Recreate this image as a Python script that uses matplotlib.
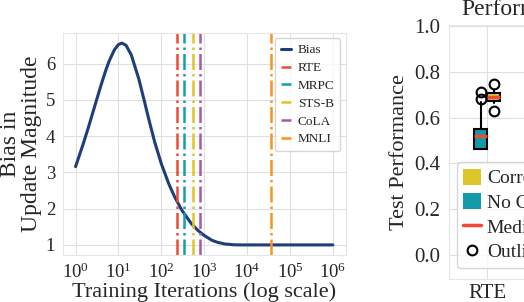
import matplotlib
matplotlib.use("Agg")
import matplotlib.pyplot as plt
import seaborn as sns
from matplotlib.lines import Line2D
from matplotlib.patches import Patch

# --- DATA ---
# bias curve (x in iterations, log scale)
iters = [1, 1.5, 2, 3, 4, 5, 6, 8, 10, 12, 15, 20, 30, 40, 50, 70, 100,
         150, 200, 300, 500, 700, 1000, 1500, 2000, 3000, 5000, 7000,
         1e4, 1e5, 1e6]
bias = [3.16, 3.78, 4.25, 4.95, 5.44, 5.80, 6.06, 6.38, 6.53, 6.57, 6.51,
        6.24, 5.57, 4.98, 4.51, 3.84, 3.24, 2.68, 2.35, 1.96, 1.59, 1.41,
        1.26, 1.13, 1.075, 1.026, 1.003, 1.0, 1.0, 1.0, 1.0]

tasks = ["RTE", "MRPC", "STS-B", "CoLA", "MNLI"]
task_steps = [233, 344, 539, 802, 36816]
task_colors = ["#ef4a32", "#12a0b0", "#dcc62a", "#a55aa8", "#f7941d"]

# test performance box stats (RTE only visible)
box_groups = ["No Correction", "Correction"]
box_q1 = [0.465, 0.673]
box_med = [0.522, 0.690]
box_q3 = [0.551, 0.707]
box_lo = [0.465, 0.665]
box_hi = [0.670, 0.720]
box_fliers = [[0.711, 0.680], [0.748, 0.628]]
box_colors = ["#129aa8", "#dcc62a"]
median_color = "#ef4a32"

# --- STYLE ---
sns.set_style("whitegrid")
plt.rcParams["font.family"] = ["Liberation Serif", "DejaVu Serif"]
plt.rcParams["mathtext.fontset"] = "stix"
plt.rcParams["axes.edgecolor"] = "#e6e6e6"
plt.rcParams["grid.color"] = "#e0e0e0"

fig = plt.figure(figsize=(5.24, 3.02), dpi=100)
W, H = 524, 302

def px_axes(l, t, r, b):
    return [l / W, (H - b) / H, (r - l) / W, (b - t) / H]

# --- LEFT PANEL ---
ax = fig.add_axes(px_axes(62.7, 33, 345.7, 255))
ax.plot(iters, bias, color="#1f3d78", lw=2.2, label="Bias")
for name, s, c in zip(tasks, task_steps, task_colors):
    ax.axvline(s, color=c, ls="-.", lw=1.8, label=name)
ax.set_xscale("log")
ax.set_xticks([1, 10, 100, 1e3, 1e4, 1e5, 1e6])
ax.minorticks_off()
ax.tick_params(labelsize=13.5, pad=2)
ax.set_yticks([1, 2, 3, 4, 5, 6])
ax.set_xlabel("Training Iterations (log scale)", fontsize=16, labelpad=0)
ax.set_ylabel("Bias in\nUpdate Magnitude", fontsize=17, labelpad=3, linespacing=0.95)
ax.legend(loc="upper right", fontsize=9.5, handlelength=0.8, handletextpad=0.5,
          labelspacing=0.42, borderpad=0.45, borderaxespad=0.4, frameon=True)

# --- RIGHT PANEL (cut off on the right) ---
ax2 = fig.add_axes(px_axes(449.3, 25, 720, 279))
stats = []
for i in range(len(box_groups)):
    stats.append(dict(q1=box_q1[i], med=box_med[i], q3=box_q3[i],
                      whislo=box_lo[i], whishi=box_hi[i], fliers=box_fliers[i]))
bp = ax2.bxp(stats, positions=[-0.0855, 0.0855], widths=0.171, patch_artist=True,
             showcaps=False,
             medianprops=dict(color=median_color, lw=2.5),
             whiskerprops=dict(color="black", lw=1.5),
             boxprops=dict(edgecolor="black", lw=1.5),
             flierprops=dict(marker="o", markerfacecolor="none",
                             markeredgecolor="black", markersize=7, mew=1.5))
for patch, c in zip(bp["boxes"], box_colors):
    patch.set_facecolor(c)
ax2.set_xlim(-0.5, 3.07)
ax2.set_ylim(-0.105, 1.005)
ax2.set_xticks([0])
ax2.set_xticklabels(["RTE"])
ax2.set_yticks([0.0, 0.2, 0.4, 0.6, 0.8, 1.0])
ax2.set_yticklabels(["0.0", "0.2", "0.4", "0.6", "0.8", "1.0"])
ax2.tick_params(axis="y", labelsize=15, pad=3)
ax2.tick_params(axis="x", labelsize=15, pad=0)
ax2.set_ylabel("Test Performance", fontsize=16, labelpad=4)
fig.text(461 / W, (H - 15) / H, "Performance", fontsize=17, ha="left", va="baseline")

handles = [Patch(facecolor=box_colors[1], edgecolor="none", label="Correction"),
           Patch(facecolor=box_colors[0], edgecolor="none", label="No Correction"),
           Line2D([], [], color=median_color, lw=2.5, label="Median"),
           Line2D([], [], ls="none", marker="o", markerfacecolor="none",
                  markeredgecolor="black", markersize=7, mew=1.5, label="Outliers")]
ax2.legend(handles=handles, loc="lower left", bbox_to_anchor=(0.0273, 0.0433),
           fontsize=14, handlelength=0.9, handleheight=0.9, handletextpad=0.3,
           labelspacing=0.3, borderpad=0.35, borderaxespad=0.0, frameon=True)

fig.savefig("out.png", dpi=100)
